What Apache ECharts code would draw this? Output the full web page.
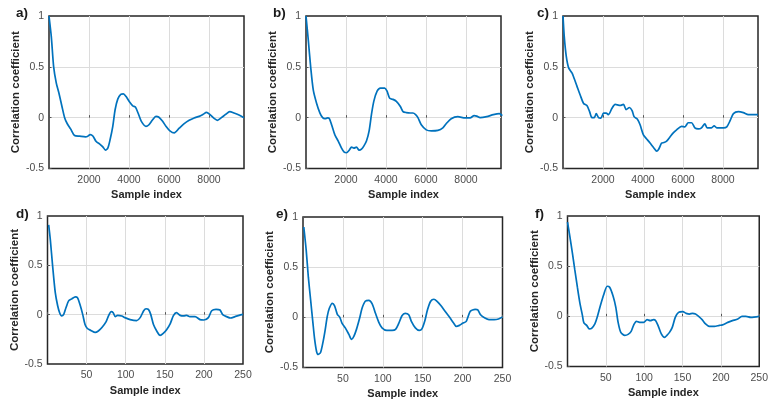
<!DOCTYPE html>
<html>
<head>
<meta charset="utf-8">
<script src="https://cdn.jsdelivr.net/npm/echarts@6/dist/echarts.min.js"></script>
<style>
  html, body { margin: 0; padding: 0; background: #fff; }
  #chart { width: 771px; height: 408px; }
</style>
</head>
<body>
<div id="chart"></div>
<script>
// Autocorrelation of the six signals, panels a) to f)
const panelLabels = ['a)', 'b)', 'c)', 'd)', 'e)', 'f)'];

// a) long lags
const lagA = [0, 116, 233, 365, 498, 648, 781, 914, 1080, 1279, 1528, 1827, 1943, 2060, 2193, 2359, 2525, 2691, 2824, 2940, 3056, 3189, 3305, 3438, 3588, 3721, 3854, 4020, 4186, 4319, 4452, 4618, 4850, 4983, 5182, 5348, 5481, 5681, 5847, 6046, 6262, 6511, 6760, 7009, 7259, 7508, 7707, 7873, 8039, 8255, 8421, 8621, 8837, 9036, 9252, 9501, 9750];
const corrA = [1.0, 0.795, 0.5, 0.34, 0.24, 0.11, 0.0, -0.06, -0.11, -0.176, -0.182, -0.189, -0.182, -0.166, -0.18, -0.235, -0.257, -0.287, -0.319, -0.30, -0.215, -0.085, 0.078, 0.182, 0.228, 0.235, 0.208, 0.156, 0.117, 0.104, 0.046, -0.036, -0.085, -0.072, -0.02, 0.013, 0.007, -0.036, -0.085, -0.13, -0.15, -0.104, -0.059, -0.026, -0.003, 0.013, 0.033, 0.052, 0.033, -0.007, -0.026, 0.0, 0.033, 0.059, 0.046, 0.026, 0.0];

// b) long lags
const lagB = [0, 116, 233, 365, 532, 698, 831, 947, 1080, 1163, 1279, 1445, 1611, 1777, 1910, 2027, 2160, 2276, 2392, 2525, 2658, 2774, 2890, 3023, 3156, 3272, 3389, 3555, 3721, 3937, 4053, 4186, 4352, 4518, 4718, 4850, 5016, 5215, 5348, 5481, 5597, 5764, 6013, 6262, 6594, 6843, 7009, 7259, 7591, 7591, 7956, 8205, 8405, 8538, 8704, 9036, 9368, 9667, 9816];
const corrB = [1.0, 0.76, 0.5, 0.27, 0.14, 0.045, 0.0, -0.01, -0.003, -0.007, -0.07, -0.17, -0.23, -0.30, -0.34, -0.345, -0.32, -0.29, -0.30, -0.29, -0.32, -0.31, -0.28, -0.23, -0.13, 0.03, 0.16, 0.26, 0.29, 0.29, 0.26, 0.19, 0.18, 0.16, 0.11, 0.06, 0.05, 0.046, 0.046, 0.03, 0.0, -0.07, -0.12, -0.13, -0.125, -0.10, -0.06, -0.01, 0.01, 0.01, -0.003, -0.003, 0.02, 0.015, 0.0, 0.01, 0.03, 0.04, 0.02];

// c) long lags
const lagC = [0, 66, 166, 282, 448, 531, 697, 864, 1030, 1196, 1329, 1445, 1561, 1661, 1777, 1894, 2027, 2160, 2276, 2442, 2608, 2857, 3023, 3156, 3322, 3455, 3555, 3721, 3854, 4020, 4186, 4352, 4551, 4684, 4784, 4933, 5049, 5182, 5348, 5514, 5681, 5930, 6096, 6262, 6428, 6594, 6760, 6926, 7092, 7208, 7424, 7557, 7690, 8022, 8189, 8355, 8521, 8770, 9019, 9268, 9518, 9750];
const corrC = [1.0, 0.79, 0.6, 0.49, 0.44, 0.40, 0.31, 0.22, 0.14, 0.12, 0.06, 0.0, 0.0, 0.04, 0.0, -0.005, 0.045, 0.045, 0.03, 0.09, 0.13, 0.12, 0.13, 0.08, 0.10, 0.07, 0.01, -0.015, -0.07, -0.17, -0.21, -0.25, -0.30, -0.33, -0.31, -0.25, -0.245, -0.23, -0.19, -0.15, -0.12, -0.085, -0.09, -0.05, -0.05, -0.10, -0.11, -0.10, -0.06, -0.10, -0.10, -0.08, -0.10, -0.10, -0.09, -0.03, 0.04, 0.06, 0.05, 0.03, 0.03, 0.03];

// d) short lags
const lagD = [1.5, 3.6, 6.6, 10, 13, 15.5, 18, 20.6, 23.6, 27, 31, 35.5, 38.5, 42, 45, 48, 51, 55.5, 61, 65, 69.6, 75, 78, 81.5, 84, 86.6, 89.6, 95, 99, 105.7, 114, 118.5, 123, 126, 129, 132, 135.5, 140, 144, 148, 152.5, 157, 161, 165, 169.6, 174, 178, 182, 188.7, 195, 200, 205.7, 210, 215.5, 220.6, 224, 229, 234, 239.8, 245, 250];
const corrD = [0.91, 0.76, 0.49, 0.22, 0.09, 0.02, -0.013, 0.0, 0.07, 0.14, 0.16, 0.18, 0.17, 0.09, 0.003, -0.10, -0.14, -0.16, -0.18, -0.165, -0.13, -0.07, -0.013, 0.03, 0.02, -0.02, -0.007, -0.013, -0.03, -0.05, -0.06, -0.03, 0.04, 0.06, 0.054, 0.003, -0.10, -0.17, -0.21, -0.19, -0.15, -0.09, -0.01, 0.02, -0.007, -0.013, -0.007, -0.02, -0.02, -0.05, -0.054, -0.03, 0.04, 0.054, 0.047, 0.0, -0.02, -0.034, -0.02, -0.007, 0.003];

// e) short lags
const lagE = [1, 4, 6.7, 9.6, 12.5, 14.6, 17, 19, 22, 25, 27.5, 30.4, 33, 36.7, 39.6, 43, 46, 49, 53, 57.5, 60.8, 63.7, 67, 71, 74, 78, 82.5, 86.7, 90.8, 95, 99, 105, 111.7, 116, 120, 124, 128, 132.5, 135.8, 140.8, 145.8, 149, 152.5, 156, 160, 164, 168, 173, 178, 183.7, 188.7, 192, 196, 200, 204.6, 209.6, 215.8, 219, 222.5, 228, 233, 239.6, 245, 250];
const corrE = [0.90, 0.67, 0.40, 0.17, -0.06, -0.22, -0.34, -0.37, -0.35, -0.25, -0.14, 0.01, 0.09, 0.14, 0.115, 0.03, 0.003, -0.06, -0.105, -0.17, -0.22, -0.19, -0.12, -0.007, 0.09, 0.16, 0.17, 0.135, 0.04, -0.05, -0.105, -0.13, -0.13, -0.12, -0.06, 0.016, 0.04, 0.026, -0.04, -0.105, -0.13, -0.115, -0.04, 0.075, 0.16, 0.18, 0.16, 0.115, 0.06, 0.0, -0.056, -0.09, -0.08, -0.06, -0.04, 0.06, 0.08, 0.075, 0.026, -0.007, -0.023, -0.023, -0.016, 0.003];

// f) short lags
const lagF = [0, 3, 6.4, 9.4, 12.9, 16, 19.5, 21.4, 25, 28.4, 31.4, 35.7, 38.7, 43, 47.4, 51.7, 55, 59.5, 63, 66, 69.5, 74.7, 79, 83, 86.4, 89.8, 94, 99.4, 103.7, 108, 112.3, 115, 118, 122.3, 126.6, 129.6, 133, 136.6, 140.5, 144.8, 150.4, 154.7, 159, 163, 166.9, 171, 175.5, 180, 185, 191.5, 198, 202, 209, 215, 222, 227.5, 232.7, 239, 250];
const corrF = [0.94, 0.80, 0.63, 0.47, 0.29, 0.14, 0.007, -0.066, -0.09, -0.125, -0.12, -0.075, -0.01, 0.11, 0.22, 0.30, 0.29, 0.20, 0.09, -0.06, -0.16, -0.19, -0.18, -0.15, -0.085, -0.05, -0.06, -0.06, -0.033, -0.043, -0.033, -0.043, -0.09, -0.175, -0.21, -0.19, -0.16, -0.11, -0.01, 0.04, 0.046, 0.03, 0.023, 0.03, 0.023, 0.0, -0.033, -0.075, -0.1, -0.1, -0.09, -0.085, -0.06, -0.043, -0.026, 0.0, 0.0, -0.01, 0.0];

const lagSets = [lagA, lagB, lagC, lagD, lagE, lagF];
const corrSets = [corrA, corrB, corrC, corrD, corrE, corrF];

// Axis ranges: top row spans long lags, bottom row short lags
const xMaxLong = 9750, xStepLong = 2000;
const xMaxShort = 250, xStepShort = 50;
const yTicks = [-0.5, 0, 0.5, 1];

// Plot boxes [left, top, width, height]
const boxes = [
  [49, 16, 195, 152.5],
  [306, 16, 195, 152.5],
  [563, 16, 195, 152.5],
  [47.5, 216, 195.5, 148],
  [303, 217, 199.5, 150.5],
  [567.5, 216, 193, 150.5]
];
const labelPos = [[16, 6], [273, 6], [537, 6], [16, 207], [276, 207], [535, 207]];

const FONT = '"Liberation Sans", Arial, Helvetica, sans-serif';
const BLUE = '#0072BD';

const grid = [], xAxis = [], yAxis = [], series = [], graphic = [];
boxes.forEach(function (b, i) {
  const longLag = i < 3;
  const step = longLag ? xStepLong : xStepShort;
  grid.push({
    left: b[0], top: b[1], width: b[2], height: b[3],
    show: true, borderColor: '#262626', borderWidth: 1.5,
    backgroundColor: 'transparent', containLabel: false
  });
  xAxis.push({
    type: 'value', gridIndex: i,
    min: 0, max: longLag ? xMaxLong : xMaxShort, interval: step,
    name: 'Sample index', nameLocation: 'middle', nameGap: 21,
    nameTextStyle: { fontFamily: FONT, fontWeight: 'bold', fontSize: 11, color: '#262626' },
    axisLine: { show: false },
    axisTick: { show: true, inside: true, length: 2.5, lineStyle: { color: '#555' } },
    splitLine: { show: true, showMinLine: false, showMaxLine: false, lineStyle: { color: '#dcdcdc', width: 1 } },
    axisLabel: {
      fontFamily: FONT, fontSize: 10.5, color: '#4d4d4d', margin: 6,
      formatter: function (v) { return (v > 0 && v % step === 0) ? String(v) : ''; }
    }
  });
  yAxis.push({
    type: 'value', gridIndex: i,
    min: -0.5, max: 1, interval: 0.5,
    name: 'Correlation coefficient', nameLocation: 'middle', nameGap: 26,
    nameTextStyle: { fontFamily: FONT, fontWeight: 'bold', fontSize: 11.5, color: '#262626' },
    axisLine: { show: false },
    axisTick: { show: true, inside: true, length: 2.5, lineStyle: { color: '#555' } },
    splitLine: { show: true, showMinLine: false, showMaxLine: false, lineStyle: { color: '#dcdcdc', width: 1 } },
    axisLabel: {
      fontFamily: FONT, fontSize: 10.5, color: '#4d4d4d', margin: 5,
      formatter: function (v) { return yTicks.indexOf(v) >= 0 ? String(v) : ''; }
    }
  });
  const lags = lagSets[i], corr = corrSets[i];
  series.push({
    type: 'line', xAxisIndex: i, yAxisIndex: i,
    data: lags.map(function (x, k) { return [x, corr[k]]; }),
    showSymbol: false, smooth: 0.25,
    lineStyle: { color: BLUE, width: 1.7 },
    clip: true, silent: true
  });
  graphic.push({
    type: 'text', left: labelPos[i][0], top: labelPos[i][1],
    style: { text: panelLabels[i], font: 'bold 13.5px ' + FONT, fill: '#1a1a1a' }
  });
});

const chart = echarts.init(document.getElementById('chart'), null, { renderer: 'canvas' });
chart.setOption({
  animation: false,
  backgroundColor: '#ffffff',
  grid: grid, xAxis: xAxis, yAxis: yAxis, series: series, graphic: graphic
});
</script>
</body>
</html>
